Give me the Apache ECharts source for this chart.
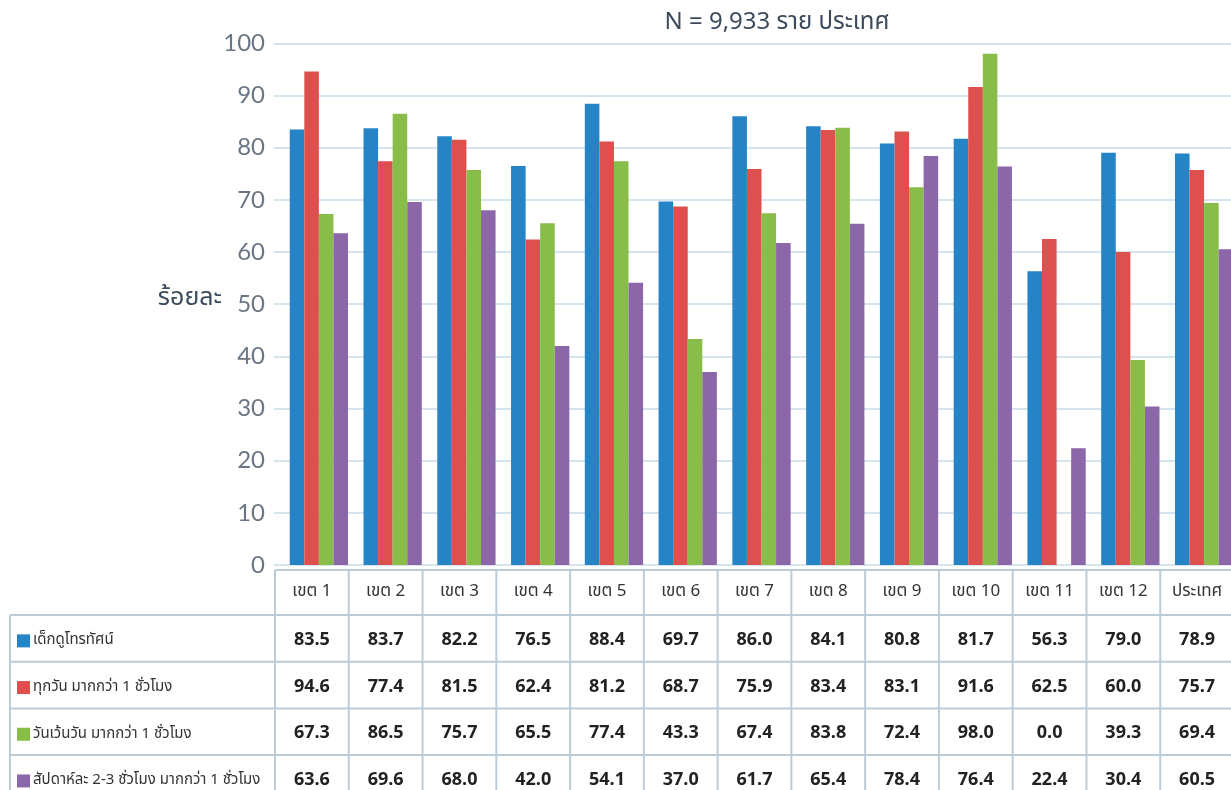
<!DOCTYPE html>
<html><head><meta charset="utf-8">
<script src="https://cdn.jsdelivr.net/npm/echarts@6/dist/echarts.min.js"></script>
<style>html,body{margin:0;padding:0;background:#fff}#c{width:1231px;height:790px}</style>
</head><body><div id="c"></div>
<script>
const categories = ['เขต 1','เขต 2','เขต 3','เขต 4','เขต 5','เขต 6','เขต 7','เขต 8','เขต 9','เขต 10','เขต 11','เขต 12','ประเทศ'];
const seriesNames = ['เด็กดูโทรทัศน์','ทุกวัน มากกว่า 1 ชั่วโมง','วันเว้นวัน มากกว่า 1 ชั่วโมง','สัปดาห์ละ 2-3 ชั่วโมง มากกว่า 1 ชั่วโมง'];
const watchTV   = [83.5,83.7,82.2,76.5,88.4,69.7,86.0,84.1,80.8,81.7,56.3,79.0,78.9];
const everyDay  = [94.6,77.4,81.5,62.4,81.2,68.7,75.9,83.4,83.1,91.6,62.5,60.0,75.7];
const altDay    = [67.3,86.5,75.7,65.5,77.4,43.3,67.4,83.8,72.4,98.0,0.0,39.3,69.4];
const weekly    = [63.6,69.6,68.0,42.0,54.1,37.0,61.7,65.4,78.4,76.4,22.4,30.4,60.5];
const yTicks = [0,10,20,30,40,50,60,70,80,90,100];
const colors = ['#2484c6','#dd504d','#89bd49','#8b66a9'];
const seriesData = [watchTV, everyDay, altDay, weekly];

const FONT = '"Noto Sans Thai","Noto Sans","Lato",sans-serif';
const chart = echarts.init(document.getElementById('c'));
chart.setOption({
  animation:false,
  backgroundColor:'#fff',
  grid:{left:282, right:-10, top:43.3, bottom:225, outerBoundsMode:'none', containLabel:false},
  xAxis:{type:'category', data:categories,
    axisLine:{show:false}, axisTick:{show:false}, axisLabel:{show:false}},
  yAxis:{type:'value', min:yTicks[0], max:yTicks[yTicks.length-1], interval:10,
    axisLine:{show:false},
    axisTick:{show:true, length:8, lineStyle:{color:'#d6e4ee', width:2}},
    splitLine:{lineStyle:{color:'#d6e4ee', width:2}},
    axisLabel:{margin:17, fontSize:24, color:'#6a7683', fontFamily:'Lato, sans-serif'}},
  series: seriesData.map((d,i)=>({
    name:seriesNames[i], type:'bar', data:d, barGap:'0%', barCategoryGap:'21%',
    itemStyle:{color:colors[i]}
  })),
  graphic:[]
});

function buildTable(){
  const c0 = chart.convertToPixel({xAxisIndex:0}, 0);
  const c1 = chart.convertToPixel({xAxisIndex:0}, 1);
  const step = c1 - c0;
  const shift = 7;
  const colX = i => c0 - step/2 - shift + step*i;
  const yZero = chart.convertToPixel({yAxisIndex:0}, 0);
  const headTop = yZero + 5, headBot = headTop + 45, rowH = 46.7;
  const leftX = 10;
  const lineColor = '#bccbd8';
  const bottom = 800;
  const g = [];
  const line = (x1,y1,x2,y2)=>g.push({type:'line', shape:{x1,y1,x2,y2}, style:{stroke:lineColor, lineWidth:2}, silent:true});
  for(let i=0;i<=categories.length;i++){ line(colX(i), headTop, colX(i), bottom); }
  line(leftX, headBot, leftX, bottom);
  line(colX(0), headTop, colX(categories.length), headTop);
  for(let k=0;k<=seriesData.length;k++){
    line(leftX, headBot + rowH*k, colX(categories.length), headBot + rowH*k);
  }
  categories.forEach((c,i)=>{
    g.push({type:'text', x:colX(i)+step/2, y:(headTop+headBot)/2, silent:true,
      style:{text:c, fill:'#333', font:'17px '+FONT, textAlign:'center', textVerticalAlign:'middle'}});
  });
  seriesData.forEach((d,k)=>{
    const cy = headBot + rowH*k + rowH/2 + 3;
    g.push({type:'rect', shape:{x:17, y:cy-7, width:13, height:13}, style:{fill:colors[k]}, silent:true});
    g.push({type:'text', x:33, y:cy, silent:true,
      style:{text:seriesNames[k], fill:'#333', font:'15px '+FONT, textAlign:'left', textVerticalAlign:'middle'}});
    d.forEach((v,i)=>{
      g.push({type:'text', x:colX(i)+step/2, y:cy, silent:true,
        style:{text:v.toFixed(1), fill:'#222', font:'bold 18px '+FONT, textAlign:'center', textVerticalAlign:'middle'}});
    });
  });
  g.push({type:'text', x:222, y:300, silent:true,
    style:{text:'ร้อยละ', fill:'#3c4b5c', font:'25px '+FONT, textAlign:'right', textVerticalAlign:'middle'}});
  g.push({type:'text', x:777, y:24, silent:true,
    style:{text:'N = 9,933 ราย ประเทศ', fill:'#3c4b5c', font:'24px '+FONT, textAlign:'center', textVerticalAlign:'middle'}});
  chart.setOption({graphic:g});
}
buildTable();
</script>
</body></html>
